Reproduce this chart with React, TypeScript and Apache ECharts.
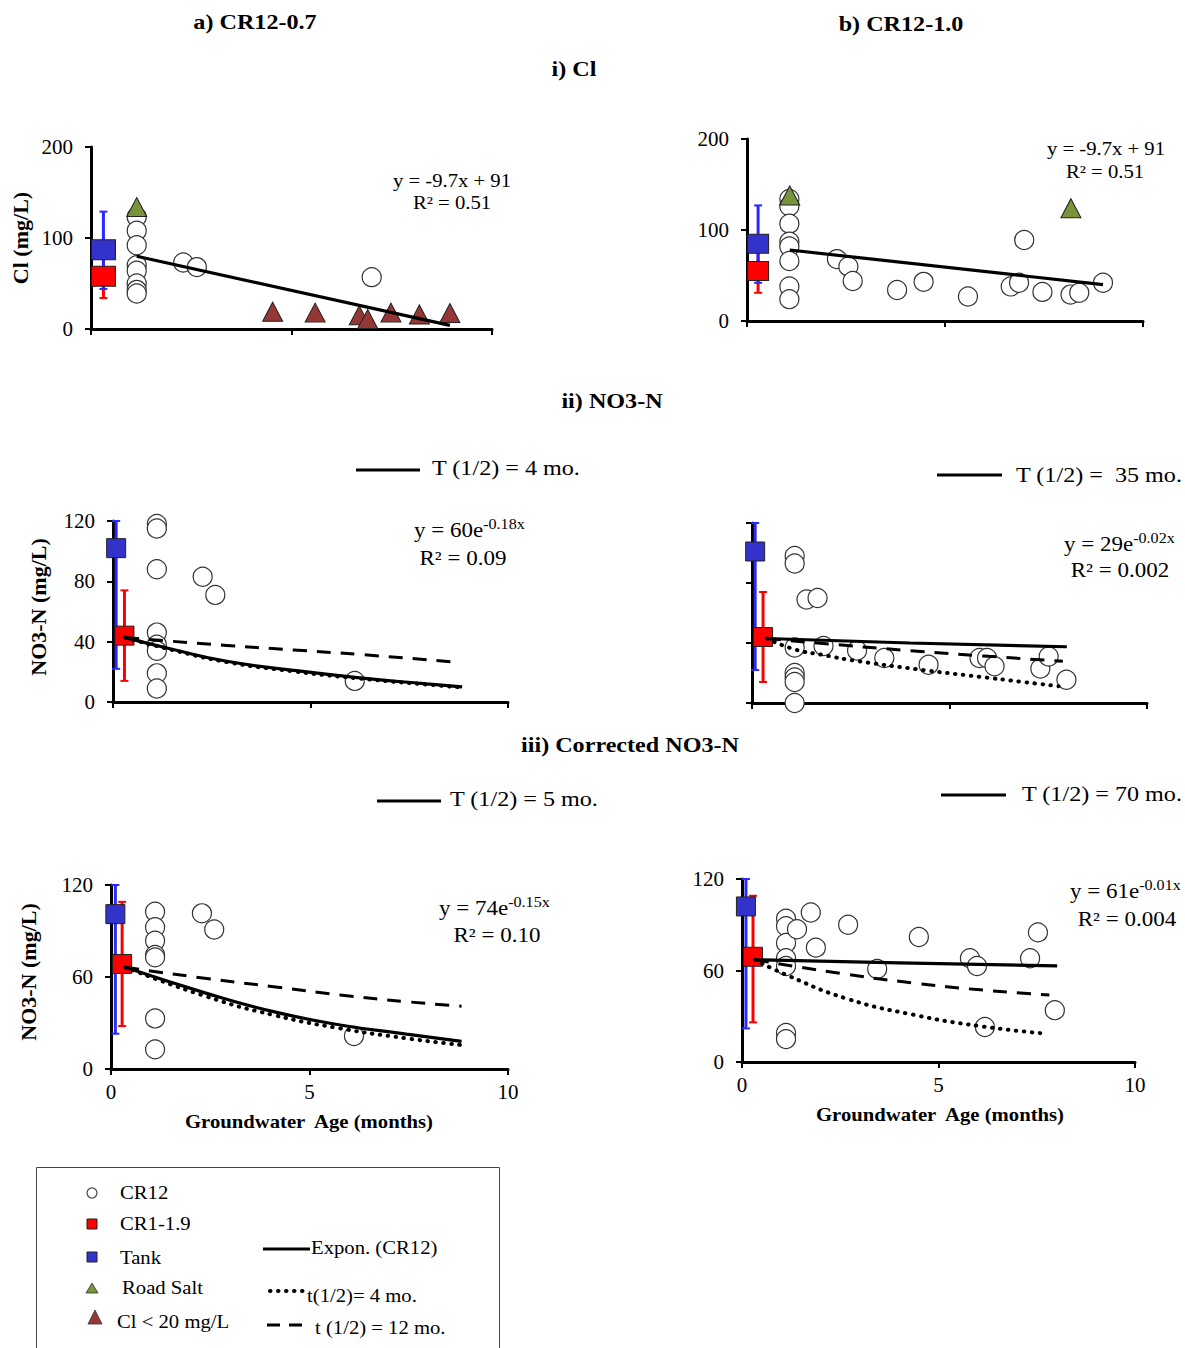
import React, { useEffect, useRef } from "react";
import * as echarts from "echarts";

const SERIF = "'Liberation Serif', 'Times New Roman', Times, serif";

// ---------------- i) Cl : a) CR12-0.7 ----------------
const clA_cr12 = [[1.14, 123], [1.14, 108], [1.14, 92], [1.14, 70], [1.14, 64], [1.14, 50], [1.14, 43], [1.14, 39], [2.3, 73], [2.64, 68], [7.0, 57]];
const clA_tank = [[0.31, 87]];
const clA_tankErr = [[0.31, 44, 129]];
const clA_cr1 = [[0.31, 58]];
const clA_cr1Err = [[0.31, 34, 81]];
const clA_salt = [[1.14, 134]];
const clA_low = [[4.53, 19], [5.59, 18], [6.69, 15], [6.9, 11], [7.48, 18], [8.19, 16], [8.95, 17.5]];
const clA_fit = [[1.14, 80], [8.95, 4]];

// ---------------- i) Cl : b) CR12-1.0 ----------------
const clB_cr12 = [[1.07, 134], [1.07, 126], [1.07, 107], [1.07, 87], [1.07, 82], [1.07, 66], [1.07, 38], [1.07, 24], [2.27, 68], [2.56, 60], [2.67, 44], [3.79, 34], [4.46, 43], [5.58, 27], [7.0, 89], [6.66, 38], [6.87, 42], [7.46, 32], [8.17, 29], [8.39, 31], [8.99, 42]];
const clB_tank = [[0.28, 85]];
const clB_tankErr = [[0.28, 42, 127]];
const clB_cr1 = [[0.28, 55]];
const clB_cr1Err = [[0.28, 31, 79]];
const clB_salt = [[1.08, 138], [8.18, 124]];
const clB_fit = [[1.08, 78], [8.99, 40]];

// ---------------- ii) NO3-N : a) ----------------
const noA_cr12 = [[1.11, 118], [1.11, 115], [1.11, 88], [1.11, 46], [1.11, 38], [1.11, 34], [1.11, 19], [1.11, 9], [2.27, 83], [2.59, 71], [6.12, 14]];
const noA_tank = [[0.08, 102]];
const noA_tankErr = [[0.08, 22, 120]];
const noA_cr1 = [[0.29, 44]];
const noA_cr1Err = [[0.29, 14, 74]];
const noA_fit = [[0.31, 42.7], [1.5, 35], [2.88, 27], [4.57, 21], [6.25, 16], [7.94, 12], [8.84, 10]];
const noA_t4 = [[0.31, 42.7], [1.5, 34.5], [2.88, 26.5], [4.57, 20.3], [6.25, 15.5], [7.94, 11.6], [8.84, 9.6]];
const noA_t12 = [[0.31, 42.7], [2.88, 37.5], [4.57, 34.5], [6.25, 31.5], [8.6, 26.6]];

// ---------------- ii) NO3-N : b) ----------------
const noB_cr12 = [[1.08, 98], [1.08, 93], [1.08, 37], [1.08, 20], [1.08, 17], [1.08, 14], [1.08, 0], [1.38, 69], [1.66, 70], [1.81, 38], [2.66, 35], [3.35, 30], [4.47, 25.5], [5.76, 30], [5.95, 30], [6.14, 24.5], [7.3, 23], [7.51, 31], [7.96, 15.5]];
const noB_tank = [[0.08, 101]];
const noB_tankErr = [[0.08, 22, 120]];
const noB_cr1 = [[0.28, 44]];
const noB_cr1Err = [[0.28, 14, 74]];
const noB_fit = [[0.38, 43], [4, 40], [7.97, 37.5]];
const noB_t4 = [[0.38, 43], [1.05, 36], [1.8, 32], [2.66, 28], [4.47, 21.5], [5.76, 17.5], [6.8, 14.2], [7.76, 11.2]];
const noB_t12 = [[0.38, 43], [2, 39.2], [4, 34.9], [6, 31.1], [7.87, 27.8]];

// ---------------- iii) Corrected NO3-N : a) ----------------
const ncA_cr12 = [[1.11, 102.6], [1.11, 92.4], [1.11, 83.7], [1.11, 74.3], [1.11, 72.8], [1.11, 33], [1.11, 12.8], [2.29, 101.5], [2.6, 91], [6.12, 21.5]];
const ncA_tank = [[0.11, 101]];
const ncA_tankErr = [[0.11, 23, 120]];
const ncA_cr1 = [[0.28, 68.5]];
const ncA_cr1Err = [[0.28, 28, 109]];
const ncA_fit = [[0.36, 66.3], [2.41, 49.3], [4.09, 37.4], [5.77, 28.7], [7.44, 22.8], [8.83, 18]];
const ncA_t4 = [[0.36, 66.3], [2.41, 47.2], [4.09, 35.2], [5.77, 26.5], [7.44, 20], [8.8, 15.7]];
const ncA_t12 = [[0.36, 66.3], [2.41, 59], [4.09, 53.7], [5.77, 48.3], [7.44, 43.9], [8.83, 41]];

// ---------------- iii) Corrected NO3-N : b) ----------------
const ncB_cr12 = [[1.12, 94], [1.12, 89], [1.12, 78], [1.12, 68], [1.12, 63], [1.12, 19], [1.12, 15], [1.4, 87], [1.75, 98], [1.88, 75], [2.7, 90], [3.44, 61], [4.5, 82], [5.8, 68], [5.98, 63], [6.18, 23], [7.33, 68], [7.53, 85], [7.96, 34]];
const ncB_tank = [[0.1, 102]];
const ncB_tankErr = [[0.1, 22, 120]];
const ncB_cr1 = [[0.28, 69]];
const ncB_cr1Err = [[0.28, 26, 109]];
const ncB_fit = [[0.33, 67], [4, 65], [8.02, 63]];
const ncB_t4 = [[0.33, 67], [1.14, 57], [2.67, 41.5], [4.36, 31], [6.06, 23.5], [7.76, 18.5]];
const ncB_t12 = [[0.33, 67], [2.67, 57.5], [4.36, 51.8], [6.06, 47.3], [7.82, 43.9]];

// axis ranges
const yMax = [200, 200, 120, 120, 120, 120];
const yStep = [100, 100, 40, 40, 60, 60];
const xMax = 10;
const xStep = 5;

const RED = "#ff0000";
const BLUE_SQ = "#3333cc";
const BLUE_ERR = "#2a2aff";
const GREEN = "#77933c";
const DARKRED = "#953735";

function errSeries(i: number, data: number[][], color: string) {
  return {
    type: "custom",
    xAxisIndex: i,
    yAxisIndex: i,
    data,
    z: 4,
    silent: true,
    encode: { x: 0, y: [1, 2] },
    renderItem: (_p: any, api: any) => {
      const x = api.value(0);
      const p1 = api.coord([x, api.value(1)]);
      const p2 = api.coord([x, api.value(2)]);
      const c = 4;
      return {
        type: "group",
        children: [
          { type: "line", shape: { x1: p1[0], y1: p1[1], x2: p2[0], y2: p2[1] }, style: { stroke: color, lineWidth: 3 } },
          { type: "line", shape: { x1: p1[0] - c, y1: p1[1], x2: p1[0] + c, y2: p1[1] }, style: { stroke: color, lineWidth: 2 } },
          { type: "line", shape: { x1: p2[0] - c, y1: p2[1], x2: p2[0] + c, y2: p2[1] }, style: { stroke: color, lineWidth: 2 } },
        ],
      };
    },
  };
}

function scat(i: number, data: number[][], symbol: string, size: any, color: string, z: number, border = "#222", bw = 1) {
  return {
    type: "scatter",
    xAxisIndex: i,
    yAxisIndex: i,
    data,
    symbol,
    symbolSize: size,
    z,
    silent: true,
    itemStyle: { color, borderColor: border, borderWidth: bw, opacity: 1 },
  };
}

function line(i: number, data: number[][], kind: "solid" | "dot" | "dash") {
  const ls: any = { color: "#000", width: 3 };
  if (kind === "dot") {
    ls.type = [0.5, 7.5];
    ls.cap = "round";
    ls.width = 4;
  } else if (kind === "dash") {
    ls.type = [14, 10];
    ls.width = 3;
  } else {
    ls.width = 3.2;
  }
  return {
    type: "line",
    xAxisIndex: i,
    yAxisIndex: i,
    data,
    showSymbol: false,
    symbol: "none",
    smooth: data.length > 2,
    z: 6,
    silent: true,
    lineStyle: ls,
  };
}

function panel(i: number, d: any) {
  const s: any[] = [];
  s.push(scat(i, d.cr12, "circle", 19, "#ffffff", 3, "#333", 1.2));
  s.push(errSeries(i, d.cr1Err, RED));
  s.push(errSeries(i, d.tankErr, BLUE_ERR));
  s.push(scat(i, d.tank, "rect", d.sq, BLUE_SQ, 5));
  s.push(scat(i, d.cr1, "rect", d.sq, RED, 5));
  if (d.salt) s.push(scat(i, d.salt, "triangle", [20, 19], GREEN, 5));
  if (d.low) s.push(scat(i, d.low, "triangle", [20, 19], DARKRED, 5));
  if (d.fit) s.push(line(i, d.fit, "solid"));
  if (d.t4) s.push(line(i, d.t4, "dot"));
  if (d.t12) s.push(line(i, d.t12, "dash"));
  return s;
}

const txt = (x: number, y: number, text: string, size: number, o: any = {}) => ({
  type: "text",
  x,
  y,
  z: 100,
  scaleX: o.sx ?? 1.15,
  rotation: o.rot ?? 0,
  silent: true,
  style: {
    text,
    fontFamily: SERIF,
    fontSize: size,
    fontWeight: o.bold ? "bold" : "normal",
    fill: "#000",
    align: o.align ?? "center",
    textAlign: o.align ?? "center",
    verticalAlign: "middle",
    textVerticalAlign: "middle",
  },
});

const eqExp = (x: number, y: number, main: string, sup: string) => ({
  type: "text",
  x,
  y,
  z: 100,
  scaleX: 1.15,
  silent: true,
  style: {
    text: `{m|${main}}{s|${sup}}`,
    align: "left",
    textAlign: "left",
    verticalAlign: "middle",
    textVerticalAlign: "middle",
    rich: {
      m: { fontFamily: SERIF, fontSize: 20, fill: "#000" },
      s: { fontFamily: SERIF, fontSize: 14, fill: "#000", padding: [0, 0, 14, 0] },
    },
  },
});

const hline = (x1: number, x2: number, y: number, dash?: number[], w = 3, cap = "butt") => ({
  type: "line",
  z: 100,
  silent: true,
  shape: { x1, y1: y, x2, y2: y },
  style: { stroke: "#000", lineWidth: w, lineDash: dash, lineCap: cap },
});

export default function App() {
  const ref = useRef<HTMLDivElement>(null);
  useEffect(() => {
    if (!ref.current) return;
    const chart = echarts.init(ref.current, undefined, { renderer: "svg" });

    const grids = [
      { left: 91, top: 147, width: 401, height: 182 },
      { left: 747, top: 139, width: 396, height: 182 },
      { left: 113, top: 521, width: 395, height: 181 },
      { left: 752, top: 523, width: 395, height: 180 },
      { left: 111, top: 885, width: 397, height: 184 },
      { left: 742, top: 879, width: 393, height: 183 },
    ];

    const xAxes = grids.map((_, i) => ({
      type: "value",
      gridIndex: i,
      min: 0,
      max: xMax,
      interval: xStep,
      axisLine: { show: true, onZero: false, lineStyle: { color: "#000", width: 3 } },
      axisTick: { show: true, length: 6, lineStyle: { color: "#000", width: 2 } },
      axisLabel: { show: i >= 4, color: "#000", fontFamily: SERIF, fontSize: 21, margin: 12 },
      splitLine: { show: false },
    }));

    const yAxes = grids.map((_, i) => ({
      type: "value",
      gridIndex: i,
      min: 0,
      max: yMax[i],
      interval: yStep[i],
      axisLine: { show: true, onZero: false, lineStyle: { color: "#000", width: 3 } },
      axisTick: { show: true, length: 6, lineStyle: { color: "#000", width: 2 } },
      axisLabel: { show: i !== 3, color: "#000", fontFamily: SERIF, fontSize: 21, margin: 18 },
      splitLine: { show: false },
    }));

    const series = [
      ...panel(0, { cr12: clA_cr12, tank: clA_tank, tankErr: clA_tankErr, cr1: clA_cr1, cr1Err: clA_cr1Err, salt: clA_salt, low: clA_low, fit: clA_fit, sq: [24, 20] }),
      ...panel(1, { cr12: clB_cr12, tank: clB_tank, tankErr: clB_tankErr, cr1: clB_cr1, cr1Err: clB_cr1Err, salt: clB_salt, fit: clB_fit, sq: [21, 19] }),
      ...panel(2, { cr12: noA_cr12, tank: noA_tank, tankErr: noA_tankErr, cr1: noA_cr1, cr1Err: noA_cr1Err, fit: noA_fit, t4: noA_t4, t12: noA_t12, sq: 19 }),
      ...panel(3, { cr12: noB_cr12, tank: noB_tank, tankErr: noB_tankErr, cr1: noB_cr1, cr1Err: noB_cr1Err, fit: noB_fit, t4: noB_t4, t12: noB_t12, sq: 19 }),
      ...panel(4, { cr12: ncA_cr12, tank: ncA_tank, tankErr: ncA_tankErr, cr1: ncA_cr1, cr1Err: ncA_cr1Err, fit: ncA_fit, t4: ncA_t4, t12: ncA_t12, sq: 19 }),
      ...panel(5, { cr12: ncB_cr12, tank: ncB_tank, tankErr: ncB_tankErr, cr1: ncB_cr1, cr1Err: ncB_cr1Err, fit: ncB_fit, t4: ncB_t4, t12: ncB_t12, sq: 19 }),
    ];

    const graphic: any[] = [
      // titles
      txt(255, 22, "a) CR12-0.7", 21, { bold: true }),
      txt(901, 24, "b) CR12-1.0", 21, { bold: true }),
      txt(574, 69, "i) Cl", 21, { bold: true }),
      txt(612, 401, "ii) NO3-N", 21, { bold: true }),
      txt(630, 745, "iii) Corrected NO3-N", 21, { bold: true }),
      // y-axis titles
      txt(20, 238, "Cl (mg/L)", 22, { bold: true, rot: Math.PI / 2, sx: 1 }),
      txt(38, 607, "NO3-N (mg/L)", 22, { bold: true, rot: Math.PI / 2, sx: 1 }),
      txt(28, 972, "NO3-N (mg/L)", 22, { bold: true, rot: Math.PI / 2, sx: 1 }),
      // x-axis titles
      txt(309, 1122, "Groundwater  Age (months)", 18, { bold: true }),
      txt(940, 1115, "Groundwater  Age (months)", 18, { bold: true }),
      // equations
      txt(452, 181, "y = -9.7x + 91", 18),
      txt(452, 203, "R² = 0.51", 18),
      txt(1106, 149, "y = -9.7x + 91", 18),
      txt(1105, 172, "R² = 0.51", 18),
      eqExp(414, 531, "y = 60e", "-0.18x"),
      txt(463, 559, "R² = 0.09", 20),
      eqExp(1064, 545, "y = 29e", "-0.02x"),
      txt(1120, 571, "R² = 0.002", 20),
      eqExp(439, 909, "y = 74e", "-0.15x"),
      txt(497, 936, "R² = 0.10", 20),
      eqExp(1070, 892, "y = 61e", "-0.01x"),
      txt(1127, 920, "R² = 0.004", 20),
      // half-life keys
      hline(356, 420, 470),
      txt(432, 468, "T (1/2) = 4 mo.", 21, { align: "left" }),
      hline(937, 1002, 475),
      txt(1016, 475, "T (1/2) =  35 mo.", 21, { align: "left" }),
      hline(377, 441, 801),
      txt(450, 799, "T (1/2) = 5 mo.", 21, { align: "left" }),
      hline(941, 1006, 795),
      txt(1022, 794, "T (1/2) = 70 mo.", 21, { align: "left" }),
      // legend box
      { type: "rect", z: 90, silent: true, shape: { x: 36.5, y: 1167.5, width: 463, height: 220 }, style: { fill: "#fff", stroke: "#444", lineWidth: 1 } },
      { type: "circle", z: 100, silent: true, shape: { cx: 92, cy: 1193, r: 5 }, style: { fill: "#fff", stroke: "#555", lineWidth: 1.3 } },
      txt(120, 1193, "CR12", 18, { align: "left" }),
      { type: "rect", z: 100, silent: true, shape: { x: 87, y: 1219, width: 10, height: 10 }, style: { fill: RED, stroke: "#222", lineWidth: 1 } },
      txt(120, 1224, "CR1-1.9", 18, { align: "left" }),
      { type: "rect", z: 100, silent: true, shape: { x: 87, y: 1252, width: 10, height: 10 }, style: { fill: BLUE_SQ, stroke: "#222", lineWidth: 1 } },
      txt(120, 1258, "Tank", 18, { align: "left" }),
      { type: "polygon", z: 100, silent: true, shape: { points: [[86, 1293], [98, 1293], [92, 1283]] }, style: { fill: GREEN, stroke: "#333", lineWidth: 0.8 } },
      txt(122, 1288, "Road Salt", 18, { align: "left" }),
      { type: "polygon", z: 100, silent: true, shape: { points: [[88, 1324], [102, 1324], [95, 1310]] }, style: { fill: DARKRED, stroke: "#333", lineWidth: 0.8 } },
      txt(117, 1322, "Cl < 20 mg/L", 18, { align: "left" }),
      hline(263, 310, 1249),
      txt(311, 1248, "Expon. (CR12)", 18, { align: "left" }),
      hline(270, 304, 1291, [0.5, 7.5], 4, "round"),
      txt(307, 1296, "t(1/2)= 4 mo.", 18, { align: "left" }),
      hline(267, 308, 1325, [13, 9], 3),
      txt(315, 1328, "t (1/2) = 12 mo.", 18, { align: "left" }),
    ];

    chart.setOption({
      animation: false,
      backgroundColor: "#ffffff",
      grid: grids,
      xAxis: xAxes,
      yAxis: yAxes,
      series,
      graphic,
    });
    return () => chart.dispose();
  }, []);

  return <div ref={ref} style={{ position: "absolute", left: 0, top: 0, width: 1185, height: 1348 }} />;
}
